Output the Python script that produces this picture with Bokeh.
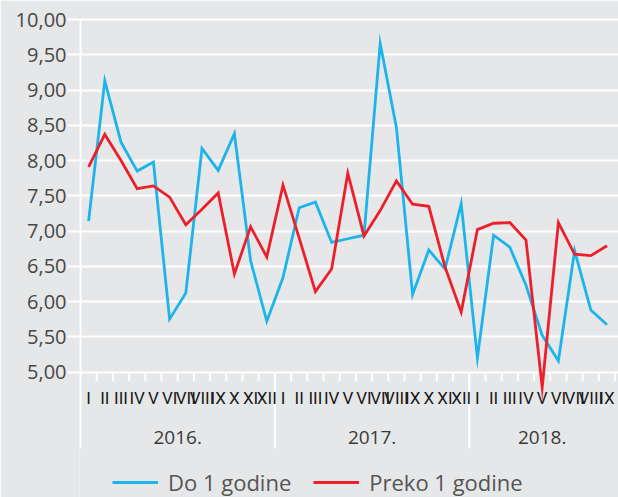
from bokeh.plotting import figure
from bokeh.models import FixedTicker, CustomJSTickFormatter, Range1d, Legend, LegendItem
from bokeh.core.properties import value
from bokeh.embed import file_html
from bokeh.resources import INLINE

# ---------------- data ----------------
years = ["2016.", "2017.", "2018."]
months_per_year = [12, 12, 9]
roman = ["I", "II", "III", "IV", "V", "VI", "VII", "VIII", "IX", "X", "XI", "XII"]

do_1_godine = [
    7.14, 9.13, 8.26, 7.85, 7.98, 5.75, 6.12, 8.17, 7.86, 8.38, 6.58, 5.72,
    6.34, 7.33, 7.41, 6.84, 6.89, 6.94, 9.66, 8.47, 6.10, 6.73, 6.46, 7.39,
    5.20, 6.94, 6.77, 6.23, 5.52, 5.16, 6.72, 5.88, 5.67,
]
preko_1_godine = [
    7.91, 8.37, 8.00, 7.60, 7.64, 7.48, 7.09, 7.31, 7.54, 6.39, 7.06, 6.63,
    7.65, 6.90, 6.14, 6.46, 7.82, 6.93, 7.29, 7.71, 7.38, 7.35, 6.49, 5.85,
    7.02, 7.11, 7.12, 6.87, 4.78, 7.12, 6.67, 6.65, 6.79,
]
y_ticks = [5.0, 5.5, 6.0, 6.5, 7.0, 7.5, 8.0, 8.5, 9.0, 9.5, 10.0]

# ---------------- derived ----------------
month_labels = []
for n in months_per_year:
    month_labels += roman[:n]
xs = list(range(len(month_labels)))

# ---------------- layout constants ----------------
BG = "#e6e7e8"
CYAN = "#1db4ea"
RED = "#ec1f2a"
W, H = 618, 497
BL, BT = 79, 18
PX_CAT = 16.2      # px per month
PX_UNIT = 70.5     # px per y unit
frame_w = W - BL
frame_h = H - BT
x0 = -0.5 - 1.0 / PX_CAT
x1 = x0 + frame_w / PX_CAT
y_top = max(y_ticks) + 1.0 / PX_UNIT
y_bot = y_top - frame_h / PX_UNIT
ymin = min(y_ticks)

def v_at(px_below_top):
    return max(y_ticks) - px_below_top / PX_UNIT

p = figure(width=W, height=H, x_range=Range1d(x0, x1), y_range=Range1d(y_bot, y_top),
           x_axis_location=None, output_backend="svg", toolbar_location=None,
           min_border_left=BL, min_border_right=0, min_border_top=BT, min_border_bottom=0)
p.background_fill_color = BG
p.border_fill_color = BG
p.outline_line_color = None
p.xgrid.grid_line_color = None

p.yaxis.ticker = FixedTicker(ticks=y_ticks)
p.yaxis.formatter = CustomJSTickFormatter(code="return tick.toFixed(2).replace('.', ',');")
p.yaxis.axis_line_color = None
p.yaxis.major_tick_line_color = "white"
p.yaxis.major_tick_line_width = 2
p.yaxis.major_tick_in = 0
p.yaxis.major_tick_out = 12
p.yaxis.minor_tick_line_color = None
p.yaxis.major_label_standoff = 1
p.yaxis.major_label_text_font = "Open Sans"
p.yaxis.major_label_text_font_size = "20px"
p.yaxis.major_label_text_color = "#474747"
p.ygrid.ticker = FixedTicker(ticks=y_ticks)
p.ygrid.grid_line_color = "white"
p.ygrid.grid_line_width = 2

# left vertical line and bottom separators / ticks
v_line_bottom = v_at(429)
p.segment(x0=[-0.5], y0=[max(y_ticks)], x1=[-0.5], y1=[v_line_bottom], line_color="white", line_width=2)
bounds = []
acc = 0
for n in months_per_year[:-1]:
    acc += n
    bounds.append(acc - 0.5)
p.segment(x0=bounds, y0=[ymin] * len(bounds), x1=bounds, y1=[v_line_bottom] * len(bounds),
          line_color="white", line_width=2)
tick_x = [i + 0.5 for i in xs]
p.segment(x0=tick_x, y0=[ymin] * len(tick_x), x1=tick_x, y1=[ymin - 9 / PX_UNIT] * len(tick_x),
          line_color="white", line_width=2)

# month labels
p.text(x=xs, y=[v_at(378)] * len(xs), text=month_labels, text_align="center", text_baseline="middle",
       text_font=value("Roboto"), text_font_size="17px", text_color="#1a1a1a")

# year labels
year_x = []
start = 0
for n in months_per_year:
    year_x.append(start + (n - 1) / 2.0)
    start += n
p.text(x=year_x, y=[v_at(418)] * len(year_x), text=years, text_align="center", text_baseline="middle",
       text_font=value("Open Sans"), text_font_size="19px", text_color="#3a3a3a")

# series
r1 = p.line(xs, do_1_godine, line_color=CYAN, line_width=2.8, line_join="miter")
r2 = p.line(xs, preko_1_godine, line_color=RED, line_width=2.8, line_join="miter")

legend = Legend(items=[LegendItem(label="Do 1 godine", renderers=[r1]),
                       LegendItem(label="Preko 1 godine", renderers=[r2])],
                orientation="horizontal", location=(33, 0), padding=0, margin=0,
                glyph_width=46, glyph_height=20, label_standoff=10, spacing=22,
                label_text_font="Open Sans", label_text_font_size="22px",
                label_text_color="#555555", background_fill_alpha=0, border_line_color=None)
p.add_layout(legend, "center")

open("out.html", "w").write(file_html(p, INLINE))
